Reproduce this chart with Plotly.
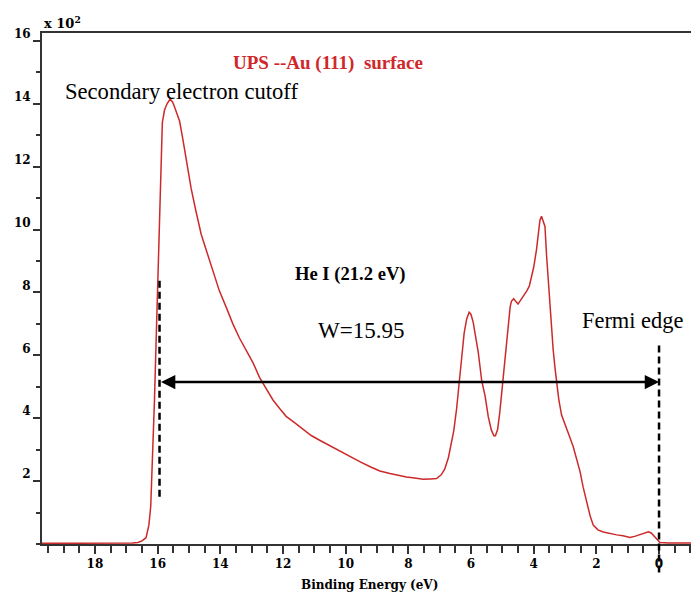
import plotly.graph_objects as go

# Binding energy (eV) and intensity (x10^2 counts)
binding_energy = [19.7, 17.5, 16.8, 16.63, 16.5, 16.37, 16.28, 16.22, 16.18, 16.14, 16.1, 16.05, 16.0, 15.95,
                  15.92, 15.89, 15.85, 15.78, 15.7, 15.6, 15.52, 15.46, 15.38, 15.3, 15.2, 15.09, 14.93, 14.77,
                  14.61, 14.45, 14.29, 14.15, 14.03, 13.8, 13.6, 13.39, 13.17, 12.95, 12.75, 12.55, 12.32, 12.1,
                  11.9, 11.62, 11.36, 11.1, 10.83, 10.5, 10.19, 9.9, 9.55, 9.2, 8.91, 8.59, 8.3, 8.06, 7.8, 7.53,
                  7.3, 7.1, 6.95, 6.84, 6.72, 6.62, 6.55, 6.46, 6.38, 6.3, 6.22, 6.14, 6.06, 6.0, 5.93, 5.85,
                  5.77, 5.72, 5.66, 5.55, 5.45, 5.35, 5.27, 5.22, 5.15, 5.08, 5.03, 4.97, 4.92, 4.86, 4.81, 4.75,
                  4.71, 4.64, 4.56, 4.5, 4.42, 4.33, 4.22, 4.14, 4.06, 4.0, 3.91, 3.85, 3.8, 3.75, 3.7, 3.64,
                  3.59, 3.53, 3.48, 3.43, 3.38, 3.32, 3.27, 3.2, 3.11, 3.03, 2.95, 2.85, 2.74, 2.63, 2.52, 2.42,
                  2.31, 2.2, 2.1, 1.95, 1.78, 1.55, 1.35, 1.15, 0.93, 0.75, 0.61, 0.45, 0.34, 0.25, 0.18, 0.08,
                  -0.03, -0.3, -1.1]
intensity = [0.02, 0.02, 0.03, 0.05, 0.1, 0.2, 0.6, 1.2, 2.2, 3.4, 4.6, 6.4, 8.2, 9.8,
             11.2, 12.5, 13.4, 13.8, 14.0, 14.15, 14.05, 13.9, 13.7, 13.45, 12.9, 12.25, 11.3, 10.55,
             9.85, 9.35, 8.85, 8.4, 8.05, 7.5, 7.0, 6.55, 6.15, 5.75, 5.3, 4.95, 4.58, 4.3,
             4.06, 3.85, 3.65, 3.45, 3.3, 3.12, 2.97, 2.8, 2.62, 2.45, 2.32, 2.24, 2.17, 2.13, 2.1, 2.06,
             2.07, 2.08, 2.2, 2.38, 2.75, 3.2, 3.6, 4.3, 5.0, 5.9, 6.7, 7.15, 7.37, 7.3, 7.05, 6.6,
             6.1, 5.7, 5.2, 4.7, 4.05, 3.62, 3.44, 3.44, 3.65, 4.2, 4.69, 5.3, 5.8, 6.5, 7.05, 7.55,
             7.72, 7.8, 7.7, 7.63, 7.75, 7.88, 8.05, 8.2, 8.5, 8.8, 9.36, 9.95, 10.3, 10.42, 10.3, 10.1,
             9.2, 8.3, 7.45, 6.8, 6.2, 5.6, 5.12, 4.6, 4.1, 3.9, 3.7, 3.4, 3.1, 2.7, 2.3, 1.8,
             1.3, 0.9, 0.6, 0.45, 0.38, 0.32, 0.29, 0.26, 0.21, 0.25, 0.29, 0.34, 0.39, 0.35, 0.28, 0.15,
             0.05, 0.03, 0.03]

x_tick_vals = [18, 16, 14, 12, 10, 8, 6, 4, 2, 0]
y_tick_vals = [2, 4, 6, 8, 10, 12, 14, 16]

cutoff_energy = 15.94
fermi_energy = 0.0
arrow_level = 5.15

SERIF = "Liberation Serif, Times New Roman, serif"
BOLD_TICK = "DejaVu Serif, serif"
AXIS_COLOR = "#333333"

fig = go.Figure()
fig.add_trace(go.Scatter(x=binding_energy, y=intensity, mode="lines",
                         line=dict(color="#cc2a2a", width=1.5), hoverinfo="skip", showlegend=False))

# dashed markers
fig.add_shape(type="line", x0=cutoff_energy, x1=cutoff_energy, y0=1.5, y1=8.45,
              xref="x", yref="y", line=dict(color="black", width=2.5, dash="7px,4px"))
fig.add_shape(type="line", x0=fermi_energy, x1=fermi_energy, y0=-0.056, y1=6.34 / 16.25,
              xref="x", yref="paper", line=dict(color="black", width=2.5, dash="7px,4px"))

# double arrow (work function)
fig.add_annotation(x=fermi_energy, y=arrow_level, ax=cutoff_energy, ay=arrow_level,
                   xref="x", yref="y", axref="x", ayref="y", text="", showarrow=True,
                   arrowhead=2, arrowside="end+start", arrowsize=1.1, arrowwidth=2.6, arrowcolor="black")

fig.add_annotation(x=10.55, y=15.3, xref="x", yref="y", text="<b>UPS --Au (111)&nbsp; surface</b>",
                   showarrow=False, font=dict(family=SERIF, size=19, color="#d0272b"))
fig.add_annotation(x=15.24, y=14.38, xref="x", yref="y", text="Secondary electron cutoff",
                   showarrow=False, font=dict(family=SERIF, size=22.6, color="black"))
fig.add_annotation(x=9.85, y=8.6, xref="x", yref="y", text="<b>He I (21.2 eV)</b>",
                   showarrow=False, font=dict(family=SERIF, size=18.6, color="black"))
fig.add_annotation(x=9.5, y=6.78, xref="x", yref="y", text="W=15.95",
                   showarrow=False, font=dict(family=SERIF, size=23, color="black"))
fig.add_annotation(x=0.85, y=7.1, xref="x", yref="y", text="Fermi edge",
                   showarrow=False, font=dict(family=SERIF, size=22.4, color="black"))

# axis multiplier and x title
fig.add_annotation(x=0.0, y=1.02, xref="paper", yref="paper", xanchor="left", yanchor="middle",
                   text="<b>x 10<sup>2</sup></b>", showarrow=False,
                   font=dict(family=BOLD_TICK, size=13, color="black"))
fig.add_annotation(x=0.505, y=-0.08, xref="paper", yref="paper", xanchor="center", yanchor="middle",
                   text="<b>Binding Energy (eV)</b>", showarrow=False,
                   font=dict(family=BOLD_TICK, size=12, color="black"))

fig.update_xaxes(range=[19.69, -1.02], tickmode="array", tickvals=x_tick_vals,
                 ticktext=[str(v) for v in x_tick_vals],
                 ticks="outside", ticklen=8, tickwidth=2, tickcolor=AXIS_COLOR,
                 minor=dict(dtick=0.5, tick0=0, ticks="outside", ticklen=7, tickwidth=2, tickcolor=AXIS_COLOR),
                 showline=True, linecolor=AXIS_COLOR, linewidth=2, mirror=True,
                 showgrid=False, zeroline=False, automargin=False,
                 tickfont=dict(family=BOLD_TICK, size=12, color="black", weight="bold"))
fig.update_yaxes(range=[0, 16.25], tickmode="array", tickvals=y_tick_vals,
                 ticktext=[str(v) for v in y_tick_vals],
                 ticks="outside", ticklen=7, tickwidth=2, tickcolor=AXIS_COLOR,
                 minor=dict(dtick=1, tick0=1, ticks="outside", ticklen=4, tickwidth=2, tickcolor=AXIS_COLOR),
                 showline=True, linecolor=AXIS_COLOR, linewidth=2,
                 showgrid=False, zeroline=False, ticklabelshift=-7, automargin=False,
                 tickfont=dict(family=BOLD_TICK, size=12, color="black", weight="bold"))

fig.update_layout(width=691, height=595, margin=dict(l=42, r=0, t=33, b=51),
                  paper_bgcolor="white", plot_bgcolor="white", showlegend=False)

fig.write_html("out.html", config={"displayModeBar": False},
               post_script="document.body.style.margin='0';document.body.style.overflow='hidden';")
